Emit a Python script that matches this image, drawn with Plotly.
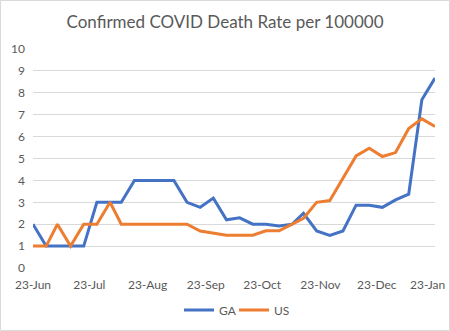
import plotly.graph_objects as go

dates = ["2020-06-23", "2020-06-30", "2020-07-06", "2020-07-13", "2020-07-20", "2020-07-27",
         "2020-08-03", "2020-08-09", "2020-08-16", "2020-08-23", "2020-08-30", "2020-09-06",
         "2020-09-13", "2020-09-20", "2020-09-27", "2020-10-04", "2020-10-11", "2020-10-18",
         "2020-10-25", "2020-11-01", "2020-11-08", "2020-11-14", "2020-11-21", "2020-11-28",
         "2020-12-05", "2020-12-12", "2020-12-19", "2020-12-26", "2021-01-02", "2021-01-09",
         "2021-01-16", "2021-01-23"]

ga = [2, 1, 1, 1, 1, 3, 3, 3, 4, 4, 4, 4, 3, 2.77, 3.19, 2.2, 2.29, 2.0, 2.0, 1.92, 2.0, 2.5,
      1.69, 1.49, 1.69, 2.87, 2.87, 2.77, 3.11, 3.37, 7.68, 8.67]
us = [1, 1, 2, 1, 2, 2, 3, 2, 2, 2, 2, 2, 2, 1.69, 1.6, 1.5, 1.5, 1.5, 1.7, 1.7, 2.0, 2.27,
      3.0, 3.08, 4.1, 5.12, 5.47, 5.09, 5.27, 6.37, 6.81, 6.46]

tick_vals = ["2020-06-23", "2020-07-23", "2020-08-23", "2020-09-23", "2020-10-23",
             "2020-11-23", "2020-12-23", "2021-01-23"]
tick_text = ["23-Jun", "23-Jul", "23-Aug", "23-Sep", "23-Oct", "23-Nov", "23-Dec", "23-Jan"]

title = "Confirmed COVID Death Rate per 100000"

W, H = 450, 331
ml, mr, mt, mb = 33, 15, 49, 63
pw, ph = W - ml - mr, H - mt - mb
gray = "#595959"
font = "Lato, Carlito, Calibri, sans-serif"

fig = go.Figure()
fig.add_trace(go.Scatter(x=dates, y=ga, mode="lines", name="GA",
                         line=dict(color="#4472C4", width=3)))
fig.add_trace(go.Scatter(x=dates, y=us, mode="lines", name="US",
                         line=dict(color="#ED7D31", width=3)))

fig.update_layout(
    width=W, height=H,
    margin=dict(l=ml, r=mr, t=mt, b=mb, pad=0, autoexpand=False),
    paper_bgcolor="white", plot_bgcolor="white",
    font=dict(family=font, color=gray, size=12),
    title=dict(text=title, x=0.5, xanchor="center", xref="container",
               y=1 - 22 / H, yanchor="middle",
               font=dict(family=font, size=17, color=gray)),
    showlegend=True,
    legend=dict(orientation="h", x=0.5, xanchor="center",
                y=-(310 - (mt + ph)) / ph,
                yanchor="middle", font=dict(size=12, color=gray),
                bgcolor="rgba(0,0,0,0)", itemwidth=30,
                entrywidth=10, entrywidthmode="pixels"),
    xaxis=dict(type="date", range=["2020-06-23", "2021-01-23"],
               tickmode="array", tickvals=tick_vals[:-1], ticktext=tick_text[:-1],
               showgrid=False, zeroline=False, showline=False, automargin=False,
               ticks="", ticklabelstandoff=8,
               tickfont=dict(size=12, color=gray)),
    yaxis=dict(range=[0, 10], dtick=1, tick0=0, showgrid=True, automargin=False,
               gridcolor="#d9d9d9", gridwidth=1, zeroline=False,
               showline=False, ticks="", ticklabelstandoff=7,
               tickfont=dict(size=12, color=gray)),
)

# the last date label sits at the right edge; keep it inside the chart
fig.add_annotation(x=tick_vals[-1], xref="x", xanchor="right", xshift=12,
                   y=-(284 - (mt + ph)) / ph, yref="paper", yanchor="middle",
                   text=tick_text[-1], showarrow=False,
                   font=dict(size=12, color=gray, family=font))

# thin border around the whole chart
fig.add_shape(type="rect", xref="paper", yref="paper",
              x0=(0.5 - ml) / pw, x1=(W - 0.5 - ml) / pw,
              y0=(mt + ph - (H - 0.5)) / ph, y1=(mt + ph - 0.5) / ph,
              line=dict(color="#d9d9d9", width=1), fillcolor="rgba(0,0,0,0)",
              layer="below")

fig.write_html("out.html")
